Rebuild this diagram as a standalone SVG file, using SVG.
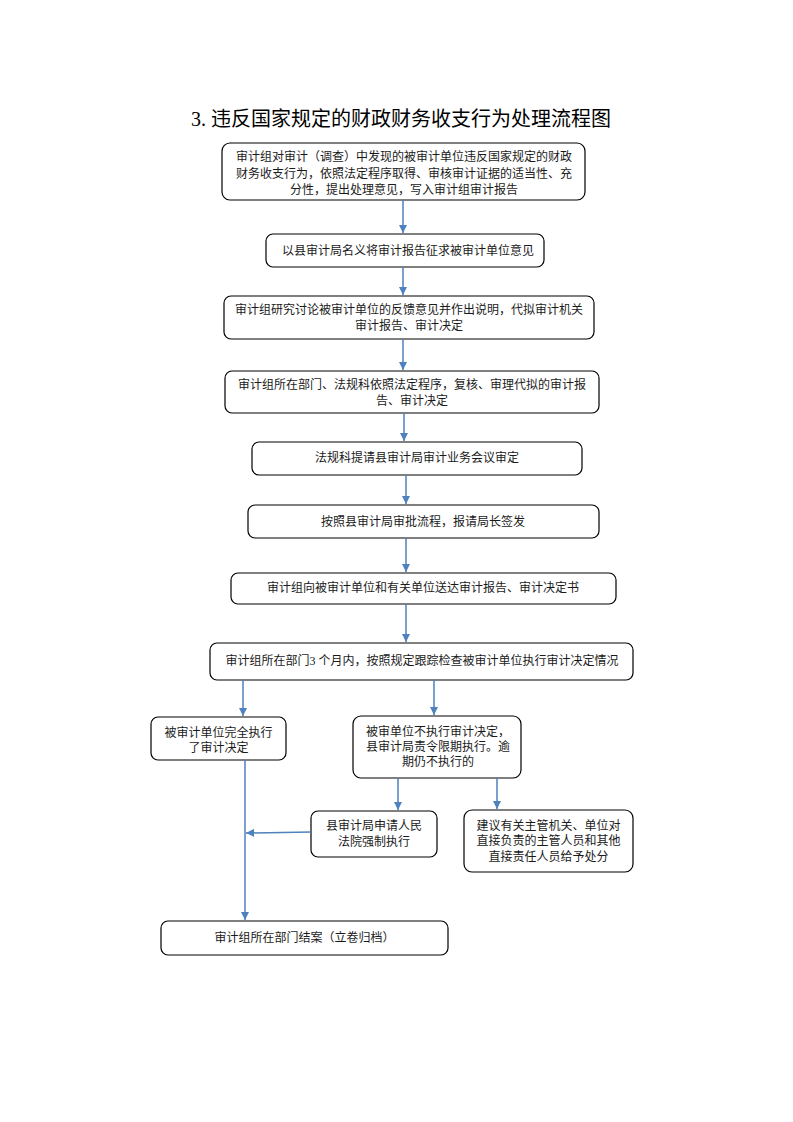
<svg xmlns="http://www.w3.org/2000/svg" width="793" height="1122" viewBox="0 0 793 1122">
<defs>
<marker id="ah" viewBox="0 0 10 10" refX="10" refY="5" markerWidth="8" markerHeight="8" markerUnits="userSpaceOnUse" orient="auto">
<path d="M0,0 L10,5 L0,10 z" fill="#4F81BD"/>
</marker>
<style>
.box{fill:#fff;stroke:#000;stroke-width:1.2}
.t{font-family:"Liberation Serif","Noto Sans CJK SC",serif;font-size:12px;fill:#1a1a1a;text-anchor:middle}
.title{font-family:"Liberation Serif","Noto Sans CJK SC",serif;font-size:20px;fill:#000;text-anchor:middle;letter-spacing:0px}
.c{fill:none;stroke:#4F81BD;stroke-width:1.5}
.ca{fill:none;stroke:#4F81BD;stroke-width:1.5;marker-end:url(#ah)}
</style>
</defs>
<rect width="793" height="1122" fill="#fff"/>
<text class="title" x="401" y="126">3. 违反国家规定的财政财务收支行为处理流程图</text>

<g id="n1"><rect class="box" x="222" y="143" width="363" height="57" rx="8"/>
<text class="t" x="404" y="161">审计组对审计（调查）中发现的被审计单位违反国家规定的财政</text>
<text class="t" x="404" y="178">财务收支行为，依照法定程序取得、审核审计证据的适当性、充</text>
<text class="t" x="404" y="194">分性，提出处理意见，写入审计组审计报告</text></g>

<g id="n2"><rect class="box" x="266" y="234" width="278" height="33" rx="7"/>
<text class="t" x="408" y="255">以县审计局名义将审计报告征求被审计单位意见</text></g>

<g id="n3"><rect class="box" x="224" y="296" width="370" height="43" rx="7"/>
<text class="t" x="409" y="314">审计组研究讨论被审计单位的反馈意见并作出说明，代拟审计机关</text>
<text class="t" x="409" y="330">审计报告、审计决定</text></g>

<g id="n4"><rect class="box" x="225" y="371" width="374" height="42" rx="7"/>
<text class="t" x="412" y="389">审计组所在部门、法规科依照法定程序，复核、审理代拟的审计报</text>
<text class="t" x="412" y="405">告、审计决定</text></g>

<g id="n5"><rect class="box" x="252" y="442" width="330" height="33" rx="7"/>
<text class="t" x="417" y="462">法规科提请县审计局审计业务会议审定</text></g>

<g id="n6"><rect class="box" x="248" y="505" width="351" height="33" rx="7"/>
<text class="t" x="423" y="526">按照县审计局审批流程，报请局长签发</text></g>

<g id="n7"><rect class="box" x="231" y="573" width="385" height="31" rx="7"/>
<text class="t" x="423" y="592">审计组向被审计单位和有关单位送达审计报告、审计决定书</text></g>

<g id="n8"><rect class="box" x="210" y="643" width="423" height="37" rx="7"/>
<text class="t" x="422" y="665">审计组所在部门3 个月内，按照规定跟踪检查被审计单位执行审计决定情况</text></g>

<g id="n9"><rect class="box" x="151" y="717" width="135" height="43" rx="7"/>
<text class="t" x="218.5" y="737">被审计单位完全执行</text>
<text class="t" x="218.5" y="752">了审计决定</text></g>

<g id="n10"><rect class="box" x="353" y="716" width="168" height="62" rx="8"/>
<text class="t" x="438" y="736">被审单位不执行审计决定，</text>
<text class="t" x="438" y="751">县审计局责令限期执行。逾</text>
<text class="t" x="438" y="766">期仍不执行的</text></g>

<g id="n11"><rect class="box" x="311" y="811" width="126" height="46" rx="7"/>
<text class="t" x="374" y="830">县审计局申请人民</text>
<text class="t" x="374" y="846">法院强制执行</text></g>

<g id="n12"><rect class="box" x="464" y="810" width="169" height="62" rx="8"/>
<text class="t" x="548.5" y="830">建议有关主管机关、单位对</text>
<text class="t" x="548.5" y="845">直接负责的主管人员和其他</text>
<text class="t" x="548.5" y="861">直接责任人员给予处分</text></g>

<g id="n13"><rect class="box" x="161" y="921" width="287" height="34" rx="7"/>
<text class="t" x="304.5" y="942">审计组所在部门结案（立卷归档）</text></g>

<g id="connectors">
<line class="ca" x1="403" y1="200" x2="403" y2="233"/>
<line class="ca" x1="403" y1="267" x2="403" y2="295"/>
<line class="ca" x1="403" y1="339" x2="403" y2="370"/>
<line class="ca" x1="404" y1="413" x2="404" y2="441"/>
<line class="ca" x1="406" y1="475" x2="406" y2="504"/>
<line class="ca" x1="406" y1="538" x2="406" y2="572"/>
<line class="ca" x1="406" y1="604" x2="406" y2="642"/>
<line class="ca" x1="243" y1="680" x2="243" y2="716"/>
<line class="ca" x1="434" y1="680" x2="434" y2="715"/>
<line class="ca" x1="398" y1="778" x2="398" y2="810"/>
<line class="ca" x1="497" y1="778" x2="497" y2="809"/>
<line class="ca" x1="245" y1="760" x2="245" y2="920"/>
<line class="ca" x1="311" y1="832" x2="246" y2="833"/>
</g>
</svg>
